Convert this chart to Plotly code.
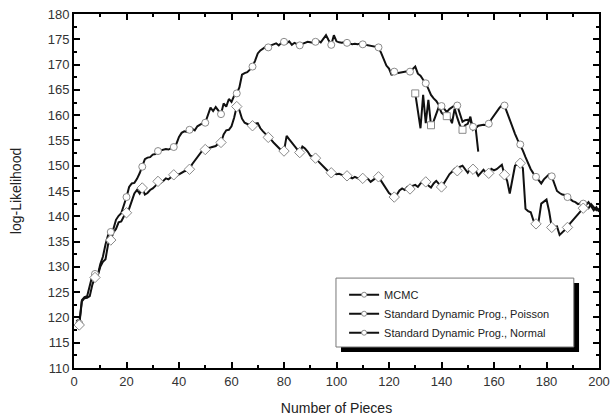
import plotly.graph_objects as go

# ---------------- data ----------------
pieces = list(range(1, 201))

poisson = [
    119.5, 118.8, 123.4, 124.0, 124.2, 126.0, 128.3, 128.6, 128.2, 130.5,
    132.0, 134.4, 136.3, 136.9, 137.5, 139.3, 140.1, 140.6, 142.0, 143.8,
    145.8, 146.5, 146.6, 147.4, 148.5, 149.8, 151.3, 151.6, 151.7, 152.2,
    152.3, 152.9, 153.0, 153.1, 153.3, 153.2, 153.5, 153.7, 154.3, 155.7,
    156.5, 156.8, 156.7, 157.1, 157.3, 157.0, 157.8, 158.1, 158.4, 158.5,
    160.0, 161.5, 160.8, 161.6, 160.9, 160.2, 162.3, 161.7, 163.2, 162.6,
    163.8, 164.3, 165.5, 168.0, 168.3, 168.5, 169.0, 169.6, 170.8, 172.2,
    172.8, 173.1, 173.5, 173.4, 173.8, 174.0, 174.2, 173.8, 174.3, 174.5,
    174.2, 174.6, 173.9, 174.3, 174.0, 173.8, 174.1, 174.3, 174.5, 174.4,
    174.3, 174.5, 174.7, 174.4, 175.2, 175.8, 174.8, 173.9, 175.8, 174.6,
    174.4, 174.3, 174.4, 174.3, 174.2, 174.0, 174.1, 174.0, 174.1, 174.0,
    173.9, 173.8, 173.8, 173.7, 173.6, 173.4, 172.3, 170.9, 169.8, 169.2,
    167.9, 168.6, 168.3, 168.4, 168.5, 168.6, 168.7, 168.6, 169.2, 169.6,
    168.2, 167.8, 167.0, 166.3, 165.2, 164.0, 163.3, 162.8, 162.0, 161.8,
    161.3, 160.6, 161.2, 161.6, 161.9, 161.9, 160.2, 158.7, 159.0, 159.1,
    158.9, 157.7, 157.4, 157.9, 158.0, 158.1, 158.0, 158.3, 159.2, 160.0,
    160.8, 161.4, 162.0, 161.9, 160.5, 159.0, 157.6, 156.3, 155.1, 154.2,
    153.0, 151.7, 150.5, 149.3, 148.5, 147.8, 147.2, 146.5, 147.3, 147.9,
    148.3, 147.9, 146.5, 145.0, 144.6, 144.3, 144.2, 143.8, 143.3, 143.0,
    142.8, 142.4, 142.6, 142.5, 141.8, 141.6, 142.4, 141.8, 141.2, 141.5,
]

normal = [
    119.5, 118.5, 123.2, 123.8, 123.9, 124.2, 126.5, 127.9, 128.2, 130.0,
    131.0, 131.5, 134.5, 135.3, 136.8, 137.5, 138.8, 139.0, 140.0, 140.7,
    141.5, 143.0, 144.5, 145.2, 144.5, 145.6, 144.3, 144.6, 145.2, 145.5,
    146.0, 146.9, 146.6, 147.0, 147.5, 147.3, 147.8, 148.2, 148.0, 148.3,
    148.6, 148.9, 149.0, 149.3, 150.3, 151.0, 151.8, 152.4, 153.1, 153.2,
    153.5, 153.6, 153.7, 153.9, 154.4, 154.6, 156.2, 157.0, 157.1, 157.8,
    159.5, 161.7, 161.0, 159.3, 158.5, 158.2, 158.0, 157.9, 158.3, 158.4,
    157.4, 156.8, 156.3, 155.6, 155.2, 154.6, 154.0, 153.6, 153.0, 152.9,
    155.9, 155.2, 154.6, 154.0, 153.3, 152.6, 153.8, 153.4, 152.8, 152.0,
    151.8, 151.5, 150.9, 150.4, 149.9, 149.3, 148.8, 148.6, 148.5, 148.3,
    148.4, 148.2, 148.0, 148.0, 147.8, 147.5, 147.8, 147.6, 147.3, 147.5,
    147.6, 147.4, 146.8, 147.2, 147.6, 147.8, 147.0, 146.0, 145.2, 144.6,
    144.2, 143.8, 144.3, 145.1, 145.5, 145.2, 145.8, 145.4, 146.0, 146.2,
    145.8, 146.5, 146.9, 146.8, 146.1, 145.7, 146.5, 147.0, 146.4, 145.8,
    146.6, 147.5, 148.3, 148.8, 149.4, 149.0, 149.8, 150.0, 149.4, 148.6,
    149.5, 149.3, 149.0, 148.0, 148.7, 149.2, 148.6, 148.5, 149.4, 149.1,
    149.3, 149.8, 150.2, 148.2, 147.0, 144.5, 147.5, 150.0, 150.3, 150.5,
    149.5, 141.5, 141.0, 140.8, 139.2, 138.5, 139.0, 142.5, 142.9, 143.3,
    141.0, 137.8, 137.9, 138.0, 136.3, 136.8, 137.4, 137.8, 138.6, 139.2,
    139.9, 140.6, 141.2, 141.6, 142.3, 142.8, 142.0, 141.2, 141.8, 140.9,
]

mcmc_x = [130, 132, 133, 134, 135, 136, 137, 138, 139, 140, 141, 142,
          143, 144, 145, 146, 147, 148, 149, 150, 151, 152, 153, 154]
mcmc = [164.3, 157.4, 164.0, 158.4, 163.0, 158.0, 158.8, 160.5, 161.7, 160.5,
        160.0, 159.8, 159.7, 158.4, 161.3, 159.5, 158.0, 157.1, 158.0, 158.3,
        159.7, 157.1, 157.5, 152.8]
mcmc_marker_x = [130, 136, 142, 148]

names = ["MCMC", "Standard Dynamic Prog., Poisson", "Standard Dynamic Prog., Normal"]

x_ticks = [0, 20, 40, 60, 80, 100, 120, 140, 160, 180, 200]
y_ticks = list(range(110, 181, 5))

# ---------------- figure ----------------
fig = go.Figure()

LINE_C = "#111111"
MK_LINE = "#8a8a8a"


def marker_subset(xs, ys, keep):
    mx, my = [], []
    for xv, yv in zip(xs, ys):
        if keep(xv):
            mx.append(xv)
            my.append(yv)
    return mx, my


def every6(v):
    return (v - 2) % 6 == 0 and v < 200


series = [
    (mcmc_x, mcmc, names[0], "square", lambda v: v in mcmc_marker_x),
    (pieces, poisson, names[1], "circle", every6),
    (pieces, normal, names[2], "diamond", every6),
]

# lines
for xs, ys, nm, sym, keep in series:
    fig.add_trace(go.Scatter(x=xs, y=ys, mode="lines", showlegend=False,
                             line=dict(color=LINE_C, width=2), hoverinfo="skip"))
# markers
for xs, ys, nm, sym, keep in series:
    mx, my = marker_subset(xs, ys, keep)
    fig.add_trace(go.Scatter(x=mx, y=my, mode="markers", showlegend=False,
                             marker=dict(symbol=sym, size=7 if sym != "diamond" else 8,
                                         color="white",
                                         line=dict(color=MK_LINE, width=1))))
# legend entries
for xs, ys, nm, sym, keep in series:
    fig.add_trace(go.Scatter(x=[None], y=[None], mode="lines+markers", name=nm,
                             line=dict(color=LINE_C, width=2),
                             marker=dict(symbol="circle", size=5, color="white",
                                         line=dict(color=MK_LINE, width=1))))

axis_common = dict(
    showline=True, linecolor="black", linewidth=2, mirror="ticks",
    ticks="inside", ticklen=6, tickwidth=2, tickcolor="black",
    showgrid=False, zeroline=False,
    tickfont=dict(family="Liberation Sans, Arial, sans-serif", size=13, color="#333333"),
    title_font=dict(family="Liberation Sans, Arial, sans-serif", size=14, color="#222222"),
)

fig.update_xaxes(
    range=[0, 200], tickvals=x_ticks, title_text="Number of Pieces", title_standoff=16,
    minor=dict(ticks="inside", ticklen=3, tickwidth=2, tickcolor="black", dtick=10, tick0=0),
    **axis_common,
)
fig.update_yaxes(
    range=[110, 180], tickvals=y_ticks, title_text="log-Likelihood", title_standoff=23,
    minor=dict(ticks="inside", ticklen=3, tickwidth=2, tickcolor="black", dtick=2.5, tick0=110),
    **axis_common,
)

# legend box with drop shadow
fig.add_shape(type="rect", xref="paper", yref="paper",
              x0=0.5086, x1=0.962, y0=0.0452, y1=0.240,
              fillcolor="black", line=dict(width=0), layer="above")
fig.add_shape(type="rect", xref="paper", yref="paper",
              x0=0.499, x1=0.952, y0=0.0593, y1=0.254,
              fillcolor="white", line=dict(color="#777777", width=1), layer="above")

fig.update_layout(
    width=612, height=420,
    margin=dict(l=74, r=13, t=14, b=52, autoexpand=False),
    paper_bgcolor="white", plot_bgcolor="white",
    font=dict(family="Liberation Sans, Arial, sans-serif", color="#222222"),
    legend=dict(x=0.5145, y=0.248, xanchor="left", yanchor="top",
                bgcolor="rgba(0,0,0,0)", borderwidth=0,
                font=dict(size=11, color="#222222"),
                itemsizing="trace", tracegroupgap=0),
    showlegend=True,
)

fig.write_html("out.html")
